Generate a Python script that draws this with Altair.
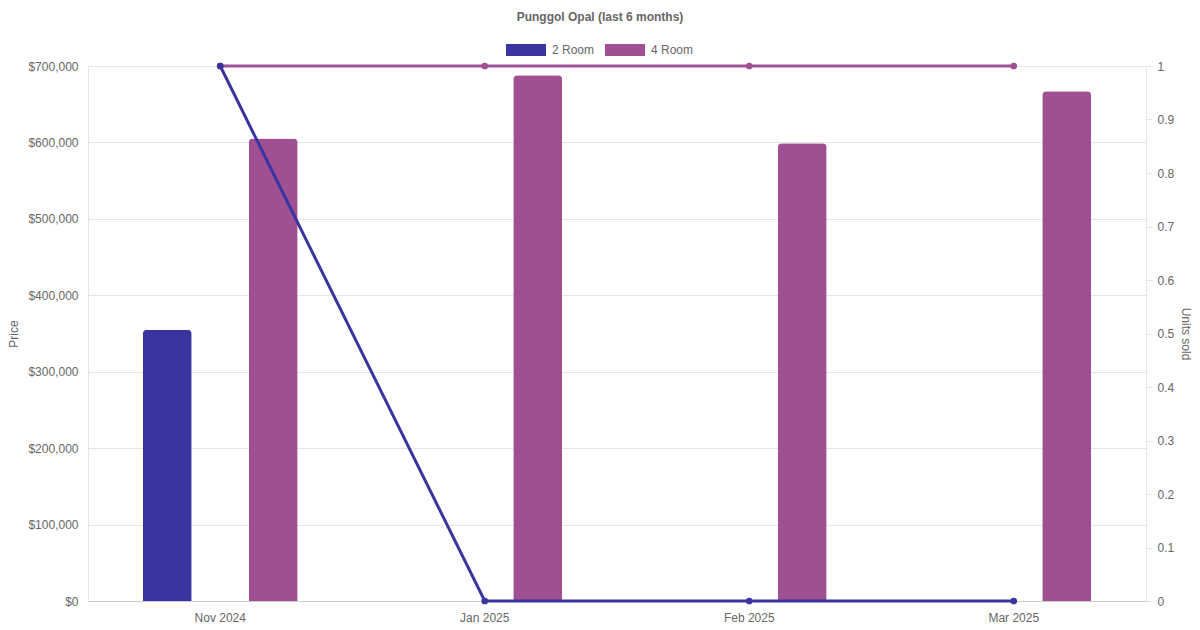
import altair as alt
import pandas as pd

months = ["Nov 2024", "Jan 2025", "Feb 2025", "Mar 2025"]
room_types = ["2 Room", "4 Room"]
price_2room = [355000, None, None, None]
price_4room = [605000, 688000, 599000, 667000]
units_2room = [1, 0, 0, 0]
units_4room = [1, 1, 1, 1]
colors = ["#3935A0", "#A05092"]
price_ticks = [0, 100000, 200000, 300000, 400000, 500000, 600000, 700000]
unit_ticks = [0, 0.1, 0.2, 0.3, 0.4, 0.5, 0.6, 0.7, 0.8, 0.9, 1]

rows = []
for i, m in enumerate(months):
    rows.append({"month": m, "type": "2 Room", "price": price_2room[i], "units": units_2room[i]})
    rows.append({"month": m, "type": "4 Room", "price": price_4room[i], "units": units_4room[i]})
df = pd.DataFrame(rows)

FONT = "Liberation Sans"
GREY = "#666666"
GRID = "#e5e5e5"

x_enc = alt.X(
    "month:N", sort=months,
    scale=alt.Scale(paddingInner=0, paddingOuter=0),
    axis=alt.Axis(title=None, labelAngle=0, ticks=False, labelPadding=11, grid=False,
                  domainColor="#cccccc", labelColor=GREY, labelFontSize=12, labelFont=FONT),
)

bars = alt.Chart(df).mark_bar(cornerRadiusTopLeft=4, cornerRadiusTopRight=4).encode(
    x=x_enc,
    xOffset=alt.XOffset("type:N", sort=room_types,
                        scale=alt.Scale(paddingInner=0.538, paddingOuter=0.517)),
    y=alt.Y("price:Q", scale=alt.Scale(domain=[0, 700000], nice=False),
            axis=alt.Axis(title="Price", values=price_ticks, format="$,.0f", grid=True,
                          gridColor=GRID, domainColor=GRID, ticks=False, labelPadding=10,
                          labelColor=GREY, labelFontSize=12, labelFont=FONT,
                          titleColor=GREY, titleFontSize=12, titleFont=FONT,
                          titleFontWeight="normal", titlePadding=7)),
    color=alt.Color("type:N", scale=alt.Scale(domain=room_types, range=colors),
                    legend=alt.Legend(title=None, orient="none", legendX=418, legendY=-36,
                                      direction="horizontal",
                                      symbolType="M-1,-0.3H1V0.3H-1Z", symbolSize=1600,
                                      symbolStrokeWidth=0, symbolOpacity=1,
                                      labelFontSize=12, labelColor=GREY, labelFont=FONT,
                                      columnPadding=10, labelOffset=6)),
)

y_units = alt.Y("units:Q", scale=alt.Scale(domain=[0, 1], nice=False),
                axis=alt.Axis(title="Units sold", orient="right", values=unit_ticks, format="~g",
                              grid=False, tickSize=6, tickColor=GRID, domainColor=GRID,
                              labelPadding=5, labelColor=GREY, labelFontSize=12, labelFont=FONT,
                              titleColor=GREY, titleFontSize=12, titleFont=FONT,
                              titleFontWeight="normal", titleAngle=90, titleBaseline="middle",
                              titlePadding=12))


def line_layer(t, c):
    return alt.Chart(df).transform_filter(alt.datum.type == t).mark_line(
        color=c, strokeWidth=3,
        point=alt.OverlayMarkDef(color=c, size=45, filled=True, opacity=1),
    ).encode(x=x_enc, y=y_units)


lines = alt.layer(line_layer("4 Room", colors[1]), line_layer("2 Room", colors[0]))

chart = alt.layer(bars, lines).resolve_scale(y="independent").properties(
    width=1058, height=535,
    title=alt.TitleParams("Punggol Opal (last 6 months)", fontSize=12, fontWeight="bold",
                          color=GREY, font=FONT, anchor="middle", dx=-17, offset=6),
    autosize=alt.AutoSizeParams(type="none"),
    padding={"left": 80, "top": 58, "right": 46, "bottom": 29},
).configure_view(stroke=None)

chart.save("out.html", embed_options={"renderer": "svg", "actions": False})
